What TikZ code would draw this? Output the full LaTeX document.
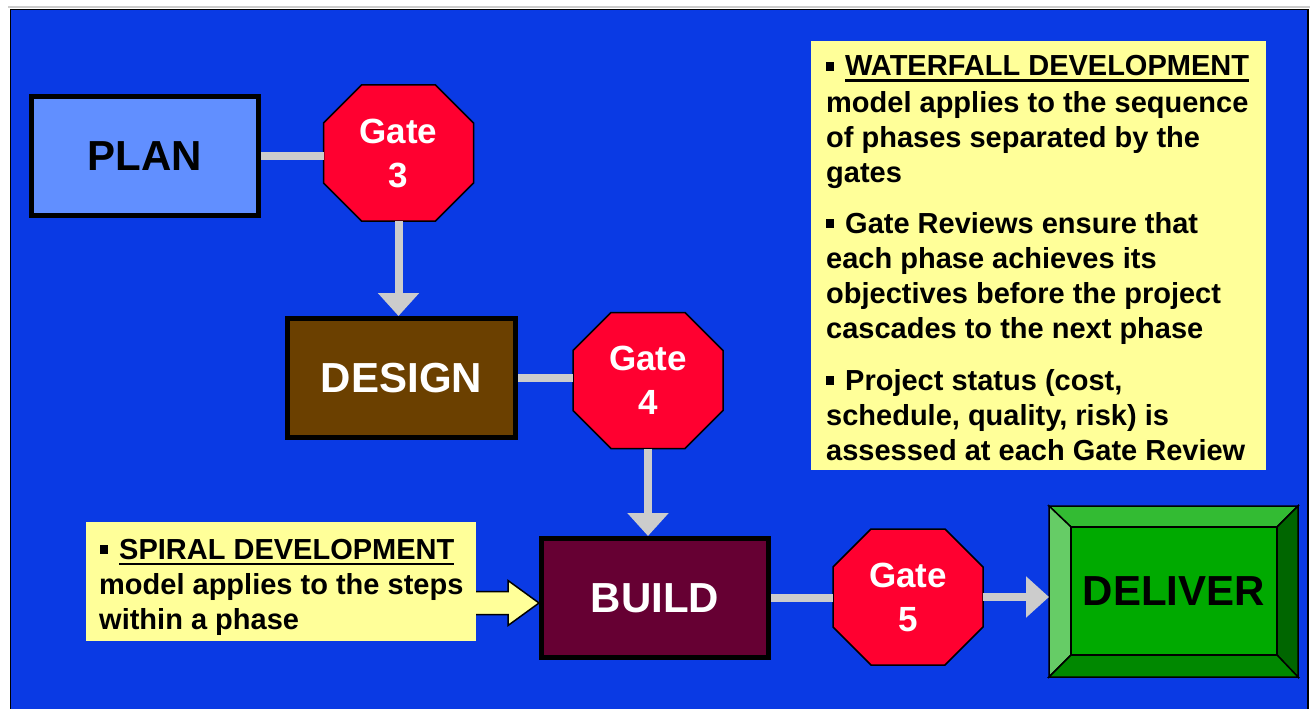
\documentclass[tikz,border=0pt]{standalone}
\usepackage{fontspec}
\setmainfont{Liberation Sans}
\usetikzlibrary{arrows.meta,calc}
\definecolor{bgblue}{RGB}{10,58,228}
\definecolor{gatered}{RGB}{255,0,48}
\definecolor{linkgrey}{RGB}{204,204,204}
\definecolor{noteyellow}{RGB}{255,255,153}
\definecolor{planblue}{RGB}{97,143,255}
\definecolor{designbrown}{RGB}{107,64,0}
\definecolor{buildred}{RGB}{102,0,51}
\definecolor{dface}{RGB}{0,170,0}
\definecolor{dtop}{RGB}{51,187,51}
\definecolor{dleft}{RGB}{102,204,102}
\definecolor{dright}{RGB}{0,102,0}
\definecolor{dbottom}{RGB}{0,136,0}
\newcommand\bul{\rule[5pt]{8pt}{9pt}\hspace{11pt}}
\newcommand\myul[1]{\setbox0\hbox{#1}\rlap{\rule[-6pt]{\wd0}{2.5pt}}\box0}
\newcommand\gatenode[4]{%
  \filldraw[gateshape] ({#2-37},{#3-68}) -- ({#2+37},{#3-68}) -- ({#2+75},{#3-30}) -- ({#2+75},{#3+30}) -- ({#2+37},{#3+68}) -- ({#2-37},{#3+68}) -- ({#2-75},{#3+30}) -- ({#2-75},{#3-30}) -- cycle;
  \node[gatebox] (#1) at (#2,#3) {Gate\\#4};}
\begin{document}
\begin{tikzpicture}[x=1pt,y=-1pt,
  phase/.style={draw=black, line width=5pt, inner sep=0pt, minimum width=227pt, minimum height=119pt, font=\fontsize{42}{50}\selectfont\bfseries},
  gatebox/.style={inner sep=0pt, outer sep=0pt, minimum width=150pt, minimum height=136pt, align=center, text=white, font=\fontsize{35}{44}\selectfont\bfseries},
  gateshape/.style={fill=gatered, draw=black, line width=1.5pt, line join=miter},
  link/.style={draw=linkgrey, line width=8pt},
  linkarrow/.style={link, -{Triangle[length=23pt,width=40pt]}},
  txt/.style={anchor=base west, inner sep=0pt, font=\fontsize{29}{35}\selectfont\bfseries},
  note/.style={fill=noteyellow},
  bevel/.style={draw=black, line width=1.5pt, line join=miter},
  yarrow/.style={fill=noteyellow, draw=black, line width=1.5pt, line join=miter}
]
\useasboundingbox (0,0) rectangle (1310,709);
\fill[white] (0,0) rectangle (1310,709);
\draw[linkgrey, line width=1.5pt] (8,7) -- (1310,7);
\filldraw[fill=bgblue, draw=black, line width=1.5pt] (10.5,9.5) rectangle (1308,720);

% phases
\node[phase, fill=planblue, text=black] (plan) at (145,156) {PLAN};
\node[phase, fill=designbrown, text=white, minimum width=228pt] (design) at (401.5,378) {DESIGN};
\node[phase, fill=buildred, text=white] (build) at (655,598) {BUILD};

% gates
\gatenode{g3}{398.5}{153}{3}
\gatenode{g4}{648}{380.5}{4}
\gatenode{g5}{908}{597}{5}

% deliver
\node[inner sep=0pt, outer sep=0pt, minimum width=249pt, minimum height=171pt] (deliver) at (1173.5,591.5) {};
\filldraw[bevel, fill=dtop] (1049,506) -- (1298,506) -- (1277,527) -- (1071,527) -- cycle;
\filldraw[bevel, fill=dleft] (1049,506) -- (1071,527) -- (1071,655) -- (1049,677) -- cycle;
\filldraw[bevel, fill=dright] (1298,506) -- (1298,677) -- (1277,655) -- (1277,527) -- cycle;
\filldraw[bevel, fill=dbottom] (1049,677) -- (1071,655) -- (1277,655) -- (1298,677) -- cycle;
\filldraw[bevel, fill=dface] (1071,527) rectangle (1277,655);
\node[inner sep=0pt, font=\fontsize{42}{50}\selectfont\bfseries] at (1174,591.5) {DELIVER};

% connectors
\draw[link] (plan.east) -- (plan.east -| g3.west);
\draw[linkarrow] (g3.south) -- (g3.south |- design.north);
\draw[link] (design.east) -- (design.east -| g4.west);
\draw[linkarrow] (g4.south) -- (g4.south |- build.north);
\draw[link] (build.east) -- (build.east -| g5.west);
\draw[linkarrow] (g5.east) -- (g5.east -| deliver.west);

% spiral arrow and note
\filldraw[yarrow] ($(build.west)+(0,5)$) -- ++(-31,-22.5) -- ++(0,11) -- ++(-45,0) -- ++(0,23) -- ++(45,0) -- ++(0,11) -- cycle;
\fill[note] (86,522) rectangle (476,641);
\node[txt] (s1) at (100,559) {\bul\myul{SPIRAL DEVELOPMENT}};
\node[txt] (s2) at (99,594) {model applies to the steps};
\node[txt] (s3) at (99,629) {within a phase};

% waterfall note
\fill[note] (811,41) rectangle (1266,470);
\node[txt] (w1) at (826,76) {\bul\myul{WATERFALL DEVELOPMENT}};
\node[txt] (w2) at (826,112) {model applies to the sequence};
\node[txt] (w3) at (826,147) {of phases separated by the};
\node[txt] (w4) at (826,182) {gates};
\node[txt] (w5) at (826,233) {\bul Gate Reviews ensure that};
\node[txt] (w6) at (826,268) {each phase achieves its};
\node[txt] (w7) at (826,303) {objectives before the project};
\node[txt] (w8) at (826,338) {cascades to the next phase};
\node[txt] (w9) at (826,390) {\bul Project status (cost,};
\node[txt] (w10) at (826,425) {schedule, quality, risk) is};
\node[txt] (w11) at (826,460) {assessed at each Gate Review};
\end{tikzpicture}
\end{document}
